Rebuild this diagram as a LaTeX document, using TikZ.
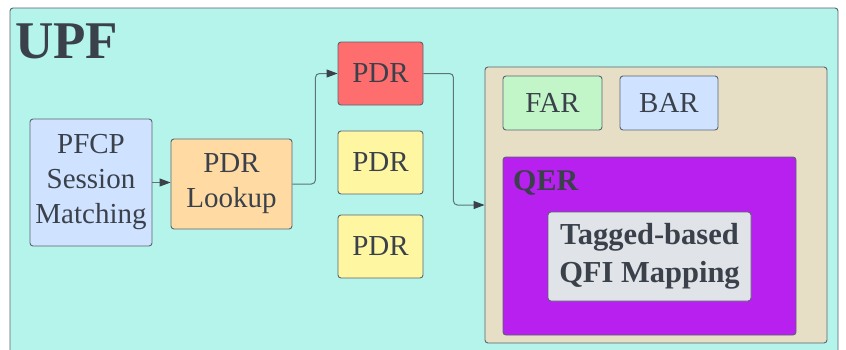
\documentclass[tikz,border=0pt]{standalone}
\usepackage{fontspec}
\setmainfont{Liberation Serif}
\usetikzlibrary{arrows.meta}
\definecolor{upfc}{HTML}{B4F4EA}
\definecolor{edgec}{HTML}{5A6570}
\definecolor{txtc}{HTML}{3A414A}
\definecolor{linec}{HTML}{5F7479}
\definecolor{bluec}{HTML}{CFE2FF}
\definecolor{orangec}{HTML}{FFDBA3}
\definecolor{redc}{HTML}{FF6E6E}
\definecolor{yellowc}{HTML}{FFF6A2}
\definecolor{tanc}{HTML}{E6DFC6}
\definecolor{greenc}{HTML}{C2F5C8}
\definecolor{purplec}{HTML}{B820F0}
\definecolor{grayc}{HTML}{E0E3E8}
\tikzset{
  box/.style={draw=edgec, line width=0.9pt, rounded corners=3pt, text=txtc,
    align=center, inner sep=0pt},
  body/.style={font=\fontsize{29}{35}\selectfont},
  conn/.style={draw=linec, line width=1pt, rounded corners=4pt,
    -{Triangle[length=11pt,width=8pt,fill=txtc,color=txtc]}},
}
\begin{document}
\begin{tikzpicture}[x=1pt,y=-1pt]
\useasboundingbox (0,0) rectangle (846,349);
\fill[white] (0,0) rectangle (846,349);
% UPF frame
\draw[draw=edgec, line width=0.9pt, fill=upfc, rounded corners=3pt] (10,8) rectangle (838,358);
\node[anchor=base west, text=txtc, inner sep=0pt, font=\fontsize{53}{60}\selectfont\bfseries] (upf) at (15,58) {UPF};
% pipeline
\node[box, body, fill=bluec, minimum width=122pt, minimum height=127pt] (pfcp) at (91,182.5) {PFCP\\Session\\Matching};
\node[box, body, fill=orangec, minimum width=121pt, minimum height=90pt] (lookup) at (231.5,184) {PDR\\Lookup};
\node[box, body, fill=redc, minimum width=85pt, minimum height=63pt] (pdr1) at (380.5,73.5) {PDR};
\node[box, body, fill=yellowc, minimum width=85pt, minimum height=63pt] (pdr2) at (380.5,162.5) {PDR};
\node[box, body, fill=yellowc, minimum width=85pt, minimum height=63pt] (pdr3) at (380.5,246.5) {PDR};
% rule container
\node[box, fill=tanc, minimum width=342pt, minimum height=276pt] (cont) at (656,205) {};
\node[box, body, fill=greenc, minimum width=99pt, minimum height=54pt] (far) at (552.5,103) {FAR};
\node[box, body, fill=bluec, minimum width=98pt, minimum height=54pt] (bar) at (669,103) {BAR};
\node[box, fill=purplec, minimum width=293pt, minimum height=178pt] (qer) at (649.5,246) {};
\node[anchor=base west, text=txtc, inner sep=0pt, font=\fontsize{30}{36}\selectfont\bfseries] (qerlabel) at (513,190) {QER};
\node[box, fill=grayc, minimum width=203pt, minimum height=89pt,
  font=\fontsize{30.5}{38}\selectfont\bfseries] (tag) at (649.5,256.5) {Tagged-based\\QFI Mapping};
% connectors
\draw[conn] (pfcp.east) -- (pfcp.east -| lookup.west);
\draw[conn] (lookup.east) -- ++(23,0) |- (pdr1.west);
\draw[conn] (pdr1.east) -- ++(30,0) |- (cont.west);
\end{tikzpicture}
\end{document}
